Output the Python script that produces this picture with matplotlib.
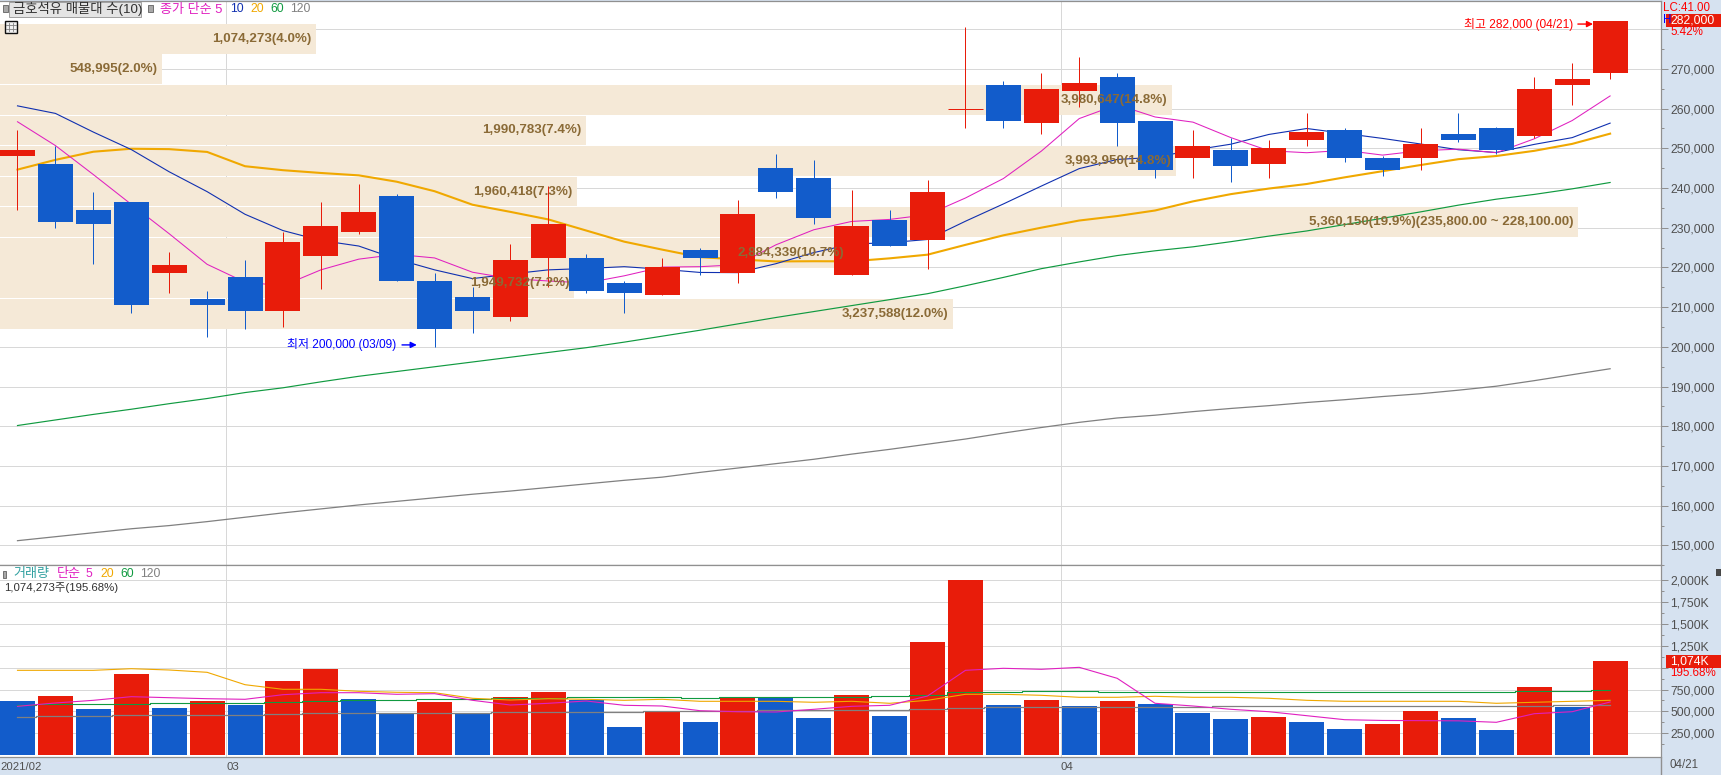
import matplotlib
matplotlib.use('Agg')
import matplotlib.pyplot as plt
import matplotlib.patches as mpatches
from matplotlib.lines import Line2D

plt.rcParams['font.family'] = ['Liberation Sans', 'Noto Sans CJK KR', 'DejaVu Sans']

# ── daily candles (43 sessions, 2021/02 ~ 04/21) ──────────
opens  = [248000,246000,234500,236500,218500,212000,217500,209000,223000,229000,
          238000,216500,212500,207500,222500,222500,216000,213000,224500,218500,
          245000,242500,218000,232000,227000,260000,266000,256500,264500,268000,
          257000,247500,249500,246000,252000,254500,247500,247500,253500,255000,
          253000,266000,269000]
highs  = [254500,250500,239000,236500,224000,214000,222000,229000,236500,241000,
          238500,218500,215000,226000,240500,223500,216500,222500,225000,237000,
          248500,247000,239500,234500,242000,280500,267000,269000,273000,269000,
          257000,254500,252500,252000,259000,255000,248000,255000,259000,255500,
          268000,271500,282000]
lows   = [234500,230000,221000,208500,213500,202500,204500,205000,214500,228500,
          216500,200000,203500,206500,215000,213500,208500,213000,218000,216000,
          237500,231000,218000,225500,219500,255000,255000,253500,260500,250500,
          242500,242500,241500,242500,250500,246500,243000,244500,251500,248500,
          252500,261000,267500]
closes = [249500,231500,231000,210500,220500,210500,209000,226500,230500,234000,
          216500,204500,209000,222000,231000,214000,213500,220000,222500,233500,
          239000,232500,230500,225500,239000,260000,257000,265000,266500,256500,
          244500,250500,245500,250000,254000,247500,244500,251000,252000,249500,
          265000,267500,282000]

ma5   = [256700,250700,243400,235900,228500,220800,216300,215400,219400,222100,
         223300,222400,218800,217200,216600,216100,217900,220100,220200,220700,
         225700,229500,231600,232100,233300,237500,242400,249300,257500,261000,
         257900,256600,252700,249400,248900,249500,248300,249400,249800,248900,
         252400,257000,263200]
ma10  = [260700,258800,254100,249700,244100,239100,233400,229300,226800,225400,
         222100,219400,217200,218350,219400,219750,220200,219550,218750,218700,
         220950,223750,225900,226250,227050,231650,236000,240500,244900,247200,
         247750,249550,251050,253500,255000,253750,252500,251100,249650,248950,
         251000,252700,256350]
ma20  = [244650,247100,249150,249900,249800,249100,245500,244500,243800,243200,
         241600,239200,235800,234000,232100,229300,226500,224500,222600,222050,
         221525,221575,221550,222300,223225,225700,228100,230025,231825,232950,
         234350,236650,238475,239875,241025,242700,244250,245800,247275,248075,
         249375,251125,253700]
ma60  = [180200,181600,183000,184300,185700,187000,188500,189700,191200,192600,
         193800,195000,196200,197400,198600,199800,201200,202700,204200,205800,
         207400,208900,210400,211900,213400,215400,217500,219700,221400,223000,
         224200,225200,226500,227900,229200,230800,232400,234000,235700,237200,
         238400,239800,241400]
ma120 = [151200,152200,153200,154200,155000,156000,157100,158200,159200,160200,
         161100,162000,162900,163700,164600,165500,166400,167200,168400,169500,
         170600,171700,173000,174200,175500,176800,178300,179700,181000,182100,
         182800,183700,184500,185200,186000,186700,187500,188200,189100,190100,
         191500,193000,194500]

# ── volume ────────────────────────────────────────────────
volumes = [618700,675800,527400,926900,538800,618700,573000,847000,984000,641500,
           470300,607300,481700,664400,721500,630100,326500,504600,379000,664400,
           664400,424700,687200,447500,1292000,2000000,573000,630100,561600,618700,
           584400,481700,413200,436100,379000,301400,351600,504600,424700,287700,
           778500,550000,1074273]
vol_up  = [0,1,0,1,0,1,0,1,1,0,0,1,0,1,1,0,0,1,0,1,0,0,1,0,1,1,0,1,0,1,
           0,0,0,1,0,0,1,1,0,0,1,0,1]
vol5    = [558000,595900,626600,668200,656400,645000,638100,690700,713500,713500,
           695200,702100,626600,573000,592500,618700,569700,561700,508000,496600,
           493200,524000,558000,569700,675800,969000,992000,980600,1003000,877900,
           592500,561700,524000,496600,451000,405300,396700,394500,392300,375600,
           473800,496600,607300]
vol20   = [969000,969000,969000,987500,972700,946300,804800,752300,752300,729500,
           718100,713500,649600,630100,645000,638100,626600,638100,615300,615300,
           615300,603900,615300,592500,626600,695200,695200,683800,661000,661000,
           672400,661000,661000,649600,626600,615300,615300,615300,615300,592500,
           603900,615300,626600]
vol60   = [569700,581100,581100,581100,592500,592500,592500,603900,615300,626600,
           626600,638100,638100,649600,649600,661000,661000,661000,649600,661000,
           661000,661000,661000,672400,683800,718100,718100,729500,729500,718100,
           718100,718100,718100,718100,718100,718100,718100,718100,718100,718100,
           729500,729500,741000]
vol120  = [432700,444100,444100,455500,455500,455500,455500,466900,478300,478300,
           478300,478300,478300,489800,489800,489800,489800,501200,501200,501200,
           512600,512600,512600,512600,524000,535400,546800,546800,546800,546800,
           546800,546800,558300,558300,558300,558300,558300,558300,558300,558300,
           558300,569700,569700]

# ── 매물대 (price band top, shares, label) ────────────────
band_tops   = [282000,274300,266600,258900,251200,243500,235800,228100,220400,212700]
band_shares = [1074273,548995,3980647,1990783,3993950,1960418,5360150,2884339,1949732,3237588]
band_labels = ['1,074,273(4.0%)','548,995(2.0%)','3,980,647(14.8%)','1,990,783(7.4%)',
               '3,993,950(14.8%)','1,960,418(7.3%)',
               '5,360,150(19.9%)(235,800.00 ~ 228,100.00)','2,884,339(10.7%)',
               '1,949,732(7.2%)','3,237,588(12.0%)']

price_ticks  = [150000,160000,170000,180000,190000,200000,210000,220000,230000,
                240000,250000,260000,270000,280000]
price_labels = ['150,000','160,000','170,000','180,000','190,000','200,000','210,000',
                '220,000','230,000','240,000','250,000','260,000','270,000','']
vol_ticks    = [250000,500000,750000,1000000,1250000,1500000,1750000,2000000]
vol_labels   = ['250,000','500,000','750,000','','1,250K','1,500K','1,750K','2,000K']
month_sessions = [6,28]
date_labels  = ['2021/02','03','04']

# ── colours ───────────────────────────────────────────────
RED='#E81C0A'; BLUE='#125CCB'; PINK='#E020C0'; NAVY='#1030B0'
ORANGE='#F0A800'; GREEN='#109A40'; GRAY='#808080'
TAN='#F5E9D7'; BROWN='#8A6A36'; PANEL='#D6E2F0'; GRID='#D8D8D8'; EDGE='#909090'; AXTXT='#505050'

W,H = 1721,775
fig = plt.figure(figsize=(W/100,H/100),dpi=100,facecolor=PANEL)

def fx(px): return px/W
def fy(py): return 1-py/H
def make_axes(px0,py0,px1,py1):
    return fig.add_axes([fx(px0),fy(py1),(px1-px0)/W,(py1-py0)/H],facecolor='white')
def ftext(px,py,s,color=AXTXT,size=8.2,ha='left',**kw):
    fig.text(fx(px),fy(py),s,color=color,fontsize=size,ha=ha,va='center',**kw)
def frect(px0,py0,px1,py1,fc,ec='none',lw=0.7,zorder=2):
    fig.add_artist(mpatches.Rectangle((fx(px0),fy(py1)),(px1-px0)/W,(py1-py0)/H,
        transform=fig.transFigure,facecolor=fc,edgecolor=ec,linewidth=lw,zorder=zorder))

XLIM = (-0.4615,43.35)
n = len(closes)
xs = list(range(n))

def style_axes(ax):
    ax.set_xlim(*XLIM)
    ax.yaxis.tick_right()
    ax.tick_params(axis='y',which='major',length=5,width=0.72,color=EDGE,labelcolor=AXTXT,labelsize=8.8,pad=1.5)
    ax.tick_params(axis='y',which='minor',length=2.5,width=0.72,color=EDGE)
    for side in ['left']:
        ax.spines[side].set_visible(False)
    for side in ['top','right','bottom']:
        ax.spines[side].set_color(EDGE); ax.spines[side].set_linewidth(0.9)
    ax.grid(axis='y',which='major',color=GRID,linewidth=0.72,zorder=0)
    ax.set_axisbelow(True)
    for m in month_sessions:
        ax.axvline(m-0.49,color=GRID,linewidth=0.72,zorder=0)

# ── price panel ───────────────────────────────────────────
ax = make_axes(0,0.5,1661.3,565.3)
style_axes(ax)
ax.set_ylim(146175,287233)
ax.set_yticks(price_ticks); ax.set_yticklabels(price_labels)
ax.set_yticks(range(145000,285000,5000),minor=True)
ax.set_xticks([])

# volume profile bands sit over the grid, under everything else
PROFILE_SCALE = 7.764e-6
for top,shares,label in zip(band_tops,band_shares,band_labels):
    ax.barh(top-650,shares*PROFILE_SCALE,height=-7490,left=XLIM[0],align='edge',
            color=TAN,linewidth=0,zorder=1)
    ax.text(XLIM[0]+shares*PROFILE_SCALE-0.12,top-650-3745,label,ha='right',va='center',
            color=BROWN,fontsize=9.6,fontweight='bold',zorder=8)

ax.plot(xs,ma120,color=GRAY,linewidth=0.9,zorder=2)
ax.plot(xs,ma60,color=GREEN,linewidth=0.85,zorder=2)
ax.plot(xs,ma20,color=ORANGE,linewidth=1.5,zorder=2)
ax.plot(xs,ma10,color=NAVY,linewidth=0.8,zorder=2)
ax.plot(xs,ma5,color=PINK,linewidth=0.75,zorder=2)

for i in xs:
    col = RED if closes[i]>=opens[i] else BLUE
    ax.vlines(i,lows[i],highs[i],color=col,linewidth=0.72,zorder=3)
    if opens[i]==closes[i]:
        ax.hlines(opens[i],i-0.46,i+0.46,color=col,linewidth=0.72,zorder=3)
    else:
        ax.bar(i,closes[i]-opens[i],bottom=opens[i],width=0.923,color=col,linewidth=0,zorder=4)

# high / low markers
ax.text(41.02,281300,'최고 282,000 (04/21)',color='#FF0000',fontsize=8.6,ha='right',va='center',zorder=9)
ax.annotate('',xy=(41.55,281300),xytext=(41.15,281300),zorder=9,
    arrowprops=dict(arrowstyle='-|>',color='#FF0000',lw=1,shrinkA=0,shrinkB=0,mutation_scale=9))
ax.text(10.0,200500,'최저 200,000 (03/09)',color='#0000FF',fontsize=8.6,ha='right',va='center',zorder=9)
ax.annotate('',xy=(10.53,200500),xytext=(10.14,200500),zorder=9,
    arrowprops=dict(arrowstyle='-|>',color='#0000FF',lw=1,shrinkA=0,shrinkB=0,mutation_scale=9))

# ── volume panel ──────────────────────────────────────────
av = make_axes(0,565.3,1661.3,757.3)
style_axes(av)
av.set_ylim(-23970,2167900)
av.set_yticks(vol_ticks); av.set_yticklabels(vol_labels)
av.set_yticks(range(125000,2125000,250000),minor=True)
av.bar(xs,volumes,width=0.923,color=[RED if u else BLUE for u in vol_up],linewidth=0,zorder=2)
av.plot(xs,vol120,color=GRAY,linewidth=0.9,drawstyle='steps-mid',zorder=3)
av.plot(xs,vol60,color=GREEN,linewidth=0.8,drawstyle='steps-mid',zorder=3)
av.plot(xs,vol20,color=ORANGE,linewidth=0.8,zorder=3)
av.plot(xs,vol5,color=PINK,linewidth=0.8,zorder=3)
av.set_xticks([XLIM[0]+0.02]+[m-0.49 for m in month_sessions])
av.set_xticklabels(date_labels,ha='left',fontsize=8.2,color=AXTXT)
av.tick_params(axis='x',length=0,pad=3.5)

# ── top legend ────────────────────────────────────────────
frect(3,5,8,12,'#A8A8A8',ec='#707070')
frect(9,2,141,16.5,'#E4E4E4',ec='#A0A0A0')
ftext(13,9.5,'금호석유 매물대 수(10)',color='#303030',size=9.6)
frect(148,5,153,12,'#A8A8A8',ec='#707070')
ftext(160,9.5,'종가 단순 5',color=PINK,size=9.4)
ftext(230,9.5,'10',color=NAVY,size=8.8)
ftext(250,9.5,'20',color=ORANGE,size=8.8)
ftext(270,9.5,'60',color=GREEN,size=8.8)
ftext(290,9.5,'120',color=GRAY,size=8.8)
# little table icon
frect(4.5,21,17,33,'#F0F0F0',ec='#101010',lw=1)
for gx in [8.5,12.5]:
    fig.add_artist(Line2D([fx(gx),fx(gx)],[fy(23),fy(31)],color='#808080',lw=0.6,zorder=3))
for gy in [25,29]:
    fig.add_artist(Line2D([fx(6),fx(15.5)],[fy(gy),fy(gy)],color='#808080',lw=0.6,zorder=3))

# ── volume legend ─────────────────────────────────────────
frect(2.5,570.5,6.5,577.5,'#A8A8A8',ec='#707070')
ftext(13.5,574,'거래량',color='#30A0A0',size=9.4)
ftext(57,574,'단순',color=PINK,size=9.4)
ftext(86,574,'5',color=PINK,size=8.8)
ftext(100,574,'20',color=ORANGE,size=8.8)
ftext(120,574,'60',color=GREEN,size=8.8)
ftext(140,574,'120',color=GRAY,size=8.8)
ftext(4,588,'1,074,273주(195.68%)',color='#303030',size=8.2)

# ── right side badges ─────────────────────────────────────
ftext(1663,8,'LC:41.00',color='#FF0000',size=8.3)
ftext(1662.5,20,'H',color='#0000FF',size=8.3)
frect(1666,14,1721,26.7,RED)
ftext(1670,20.5,'282,000',color='white',size=8.8)
ftext(1670,32,'5.42%',color='#FF0000',size=8.4)
frect(1666,655,1721,668,RED)
ftext(1670,661.5,'1,074K',color='white',size=8.8)
ftext(1670,673.5,'195.68%',color='#FF0000',size=8.4)
frect(1716,569,1721,576,'#484848')
ftext(1670,765.5,'04/21',size=8.3)
fig.add_artist(Line2D([fx(1661.3),fx(1661.3)],[fy(758),fy(775)],color=EDGE,lw=1.0,zorder=3))

plt.savefig('out.png',dpi=100,facecolor=PANEL)
